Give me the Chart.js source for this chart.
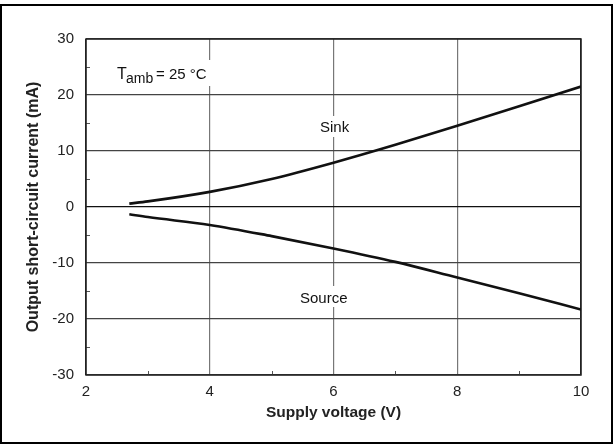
<!DOCTYPE html>
<html>
<head>
<meta charset="utf-8">
<script src="https://cdn.jsdelivr.net/npm/chart.js@4/dist/chart.umd.min.js"></script>
<style>
  html, body { margin: 0; padding: 0; background: #fff; }
  #wrap { width: 613px; height: 444px; }
</style>
</head>
<body>
<div id="wrap"><canvas id="myChart" width="613" height="444"></canvas></div>
<script>
const voltage = [2.7, 3, 4, 5, 6, 7, 8, 9, 10];
const sink = [0.6, 1.0, 2.7, 5.0, 7.9, 11.1, 14.5, 18.0, 21.5];
const source = [-1.3, -1.8, -3.2, -5.2, -7.4, -9.8, -12.6, -15.4, -18.3];
const xMinor = [3, 5, 7, 9];
const yMinor = [25, 15, 5, -5, -15, -25];

const FONT = "Liberation Sans, Arial, sans-serif";

function toPoints(ys) {
  return voltage.map((v, i) => ({ x: v, y: ys[i] }));
}

const extras = {
  id: "extras",
  beforeDatasetsDraw(c) {
    const ctx = c.ctx;
    const xs = c.scales.x, ys = c.scales.y;
    const a = c.chartArea;
    ctx.save();
    // minor ticks
    ctx.strokeStyle = "#555";
    ctx.lineWidth = 1;
    xMinor.forEach((v) => {
      const px = Math.round(xs.getPixelForValue(v)) + 0.5;
      ctx.beginPath();
      ctx.moveTo(px, a.bottom);
      ctx.lineTo(px, a.bottom - 4);
      ctx.stroke();
    });
    yMinor.forEach((v) => {
      const py = Math.round(ys.getPixelForValue(v)) + 0.5;
      ctx.beginPath();
      ctx.moveTo(a.left, py);
      ctx.lineTo(a.left + 4, py);
      ctx.stroke();
    });
    // plot frame
    ctx.strokeStyle = "#222";
    ctx.lineWidth = 1.5;
    ctx.strokeRect(a.left, a.top, a.right - a.left, a.bottom - a.top);

    // labels with white boxes
    ctx.fillStyle = "#fff";
    ctx.fillRect(114, 60, 100, 26);
    ctx.fillRect(316, 116, 40, 21);
    ctx.fillRect(297, 286, 60, 21);
    ctx.fillStyle = "#111";
    ctx.textBaseline = "alphabetic";
    ctx.textAlign = "left";
    ctx.font = "16px " + FONT;
    ctx.fillText("T", 117, 79);
    ctx.font = "14px " + FONT;
    ctx.fillText("amb", 126, 83);
    ctx.font = "15px " + FONT;
    ctx.fillText("= 25 °C", 156, 79);
    ctx.fillText("Sink", 320, 132);
    ctx.fillText("Source", 300, 303);
    ctx.restore();
  },
  afterDraw(c) {
    const ctx = c.ctx;
    ctx.save();
    ctx.strokeStyle = "#000";
    ctx.lineWidth = 2;
    ctx.strokeRect(1, 5, 611, 438);
    ctx.restore();
  },
};

const config = {
  type: "line",
  data: {
    datasets: [
      {
        label: "Sink",
        data: toPoints(sink),
        borderColor: "#111",
        borderWidth: 2.6,
        pointRadius: 0,
        cubicInterpolationMode: "monotone",
      },
      {
        label: "Source",
        data: toPoints(source),
        borderColor: "#111",
        borderWidth: 2.6,
        pointRadius: 0,
        cubicInterpolationMode: "monotone",
      },
    ],
  },
  options: {
    responsive: false,
    animation: false,
    layout: { padding: { top: 39, right: 32, left: 0, bottom: 0 } },
    plugins: {
      legend: { display: false },
      tooltip: { enabled: false },
    },
    scales: {
      x: {
        type: "linear",
        min: 2,
        max: 10,
        afterFit(s) { s.height = 69; },
        ticks: {
          stepSize: 2,
          padding: 8,
          color: "#222",
          font: { family: FONT, size: 15 },
        },
        grid: {
          color: (ctx) => (ctx.tick && (ctx.tick.value === 2 || ctx.tick.value === 10) ? "#222" : "#777"),
          lineWidth: 1.2,
          drawTicks: false,
        },
        border: { display: false },
        title: {
          display: true,
          text: "Supply voltage (V)",
          color: "#222",
          font: { family: FONT, size: 15.5, weight: "bold" },
          padding: { top: 4, bottom: 22 },
        },
      },
      y: {
        type: "linear",
        min: -30,
        max: 30,
        afterFit(s) { s.width = 86; },
        ticks: {
          stepSize: 10,
          padding: 12,
          color: "#222",
          font: { family: FONT, size: 15 },
        },
        grid: {
          color: (ctx) => (ctx.tick && ctx.tick.value === 0 ? "#111" : "#444"),
          lineWidth: 1.2,
          drawTicks: false,
        },
        border: { display: false },
        title: {
          display: true,
          text: "Output short-circuit current (mA)",
          color: "#222",
          font: { family: FONT, size: 16, weight: "bold" },
          padding: { top: 24, bottom: 6 },
        },
      },
    },
  },
  plugins: [extras],
};

const chart01 = new Chart(document.getElementById("myChart"), config);
</script>
</body>
</html>
